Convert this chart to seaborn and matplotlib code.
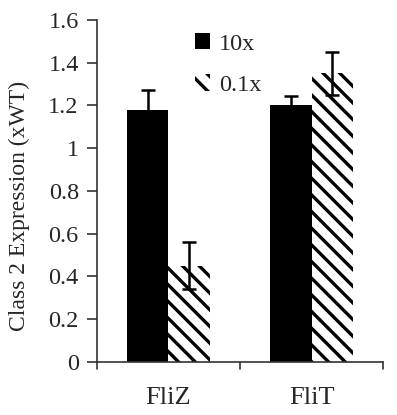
import matplotlib
matplotlib.use("Agg")
import matplotlib.pyplot as plt
import seaborn as sns
import pandas as pd
import numpy as np
from matplotlib.patches import Patch

categories = ["FliZ", "FliT"]
series = ["10x", "0.1x"]
values_10x = [1.18, 1.20]
values_01x = [0.45, 1.35]
err_10x = [0.09, 0.045]
err_01x = [0.11, 0.10]
yticks = [0, 0.2, 0.4, 0.6, 0.8, 1, 1.2, 1.4, 1.6]
ytick_labels = ["0", "0.2", "0.4", "0.6", "0.8", "1", "1.2", "1.4", "1.6"]

sns.set_style("white")
plt.rcParams["font.family"] = ["Liberation Serif", "DejaVu Serif"]
plt.rcParams["hatch.linewidth"] = 2.4
plt.rcParams["hatch.color"] = "black"

df = pd.DataFrame({
    "cat": categories * 2,
    "series": [series[0]] * 2 + [series[1]] * 2,
    "val": values_10x + values_01x,
})

fig = plt.figure(figsize=(3.97, 4.15), dpi=100)
ax = fig.add_axes([0.244, 0.128, 0.721, 0.824])

sns.barplot(data=df, x="cat", y="val", hue="series", order=categories,
            hue_order=series, palette=["black", "white"], errorbar=None,
            width=0.575, ax=ax, legend=False, saturation=1)

HATCH = "\\\\"
for patch in ax.patches[2:4]:
    patch.set_hatch(HATCH)
    patch.set_edgecolor("black")
    patch.set_linewidth(0)
for patch in ax.patches[0:2]:
    patch.set_edgecolor("black")
    patch.set_linewidth(0)

allvals = [values_10x, values_01x]
allerrs = [err_10x, err_01x]
for i, patch_group in enumerate([ax.patches[0:2], ax.patches[2:4]]):
    xs = [p.get_x() + p.get_width() / 2 for p in patch_group]
    ax.errorbar(xs, allvals[i], yerr=allerrs[i], fmt="none", ecolor="black",
                elinewidth=1.8, capsize=5, capthick=1.8, zorder=5)

ax.set_ylim(0, 1.6)
ax.set_xlim(-0.5, 1.5)
ax.set_yticks(yticks)
ax.set_yticklabels(ytick_labels)
ax.set_xticks([0, 1])
ax.set_xticklabels(categories)
ax.set_xlabel("")
ax.set_ylabel("Class 2 Expression (xWT)", fontsize=17)
ax.yaxis.set_label_coords(-0.235, 0.455)
ax.tick_params(axis="y", labelsize=17.5, length=7, width=1.2, direction="out",
               left=True, color="#333333", pad=6)
ax.tick_params(axis="x", labelsize=19, length=0, pad=18)
for xb in [-0.5, 0.5, 1.5]:
    ax.plot([xb, xb], [0, -0.035], color="#333333", lw=1.2, clip_on=False,
            transform=ax.transData)

for s in ["top", "right"]:
    ax.spines[s].set_visible(False)
for s in ["left", "bottom"]:
    ax.spines[s].set_color("#333333")
    ax.spines[s].set_linewidth(1.2)

handles = [Patch(facecolor="black", edgecolor="black", linewidth=0, label=series[0]),
           Patch(facecolor="white", edgecolor="black", linewidth=0, hatch=HATCH, label=series[1])]
ax.legend(handles=handles, loc="upper left", bbox_to_anchor=(0.265, 1.025),
          frameon=False, fontsize=17.5, handlelength=0.65, handleheight=0.65,
          handletextpad=0.35, labelspacing=0.8)

fig.savefig("out.png", dpi=100)
